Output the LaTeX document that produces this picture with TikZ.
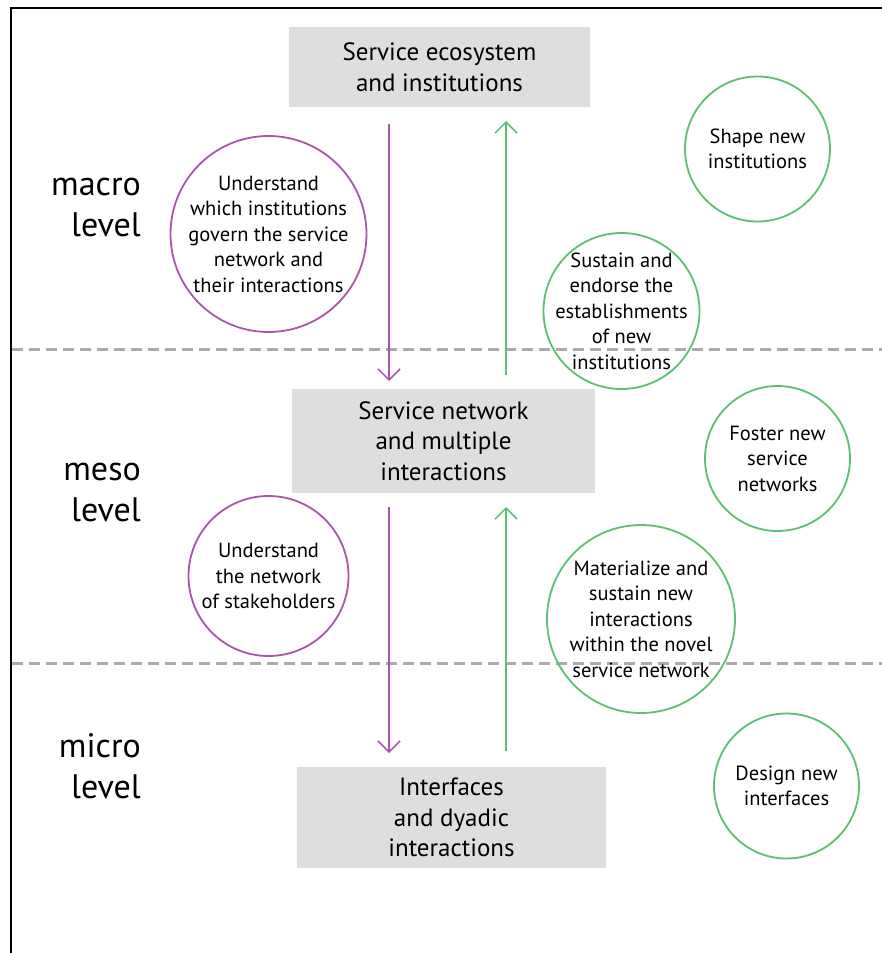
\documentclass[tikz,border=0pt]{standalone}
\usepackage{fontspec}
\setmainfont{PT Sans}
\usetikzlibrary{arrows.meta}
\definecolor{purp}{HTML}{A657A8}
\definecolor{grn}{HTML}{5CBF73}
\definecolor{boxgray}{HTML}{DEDEDE}
\definecolor{dashgray}{HTML}{ABABAB}
\tikzset{
  levelbox/.style={fill=boxgray, draw=none, align=center, inner sep=0pt,
    font=\fontsize{25}{30.5}\selectfont},
  % negative inner sep keeps each circle at its minimum size
  incircle/.style={circle, draw=purp, line width=1.8pt, align=center, inner sep=-40pt,
    font=\fontsize{20.5}{25.5}\selectfont},
  outcircle/.style={circle, draw=grn, line width=1.8pt, align=center, inner sep=-40pt,
    font=\fontsize{20.5}{25.5}\selectfont},
  levellabel/.style={align=right, anchor=east, inner sep=0pt,
    font=\fontsize{34}{41}\selectfont},
  downarrow/.style={draw=purp, line width=1.5pt, -{Straight Barb[length=11pt, width=22pt, line width=1.5pt]}},
  uparrow/.style={draw=grn, line width=1.5pt, -{Straight Barb[length=11pt, width=22pt, line width=1.5pt]}},
  divider/.style={draw=dashgray, line width=3pt, dash pattern=on 11pt off 6pt},
}
\begin{document}
\begin{tikzpicture}[x=1pt, y=-1pt]
\useasboundingbox (0,0) rectangle (882,953);
% frame
\draw[line width=2.5pt] (11,953) -- (11,8) -- (882,8);
% level dividers
\draw[divider] (12,349) -- (882,349);
\draw[divider] (12,663) -- (882,663);
% level boxes
\node[levelbox, minimum width=301pt, minimum height=80pt] (eco) at (439.5,67)
  {Service ecosystem\\and institutions};
\node[levelbox, minimum width=303pt, minimum height=104pt] (net) at (443.5,441)
  {Service network\\and multiple\\interactions};
\node[levelbox, minimum width=309pt, minimum height=101pt] (dyad) at (451.5,817.5)
  {Interfaces\\and dyadic\\interactions};
% connector end points
\coordinate (d1s) at (389,124);
\coordinate (d1e) at (389,381);
\coordinate (d2s) at (389,507);
\coordinate (d2e) at (389,753);
\coordinate (u1s) at (506,375);
\coordinate (u1e) at (506,121);
\coordinate (u2s) at (506,751);
\coordinate (u2e) at (506,507);
\draw[downarrow] (d1s) -- (d1e);
\draw[downarrow] (d2s) -- (d2e);
\draw[uparrow] (u1s) -- (u1e);
\draw[uparrow] (u2s) -- (u2e);
% level labels
\node[levellabel] (macro) at (141,207) {macro\\level};
\node[levellabel] (meso) at (141,492) {meso\\level};
\node[levellabel] (micro) at (141,766) {micro\\level};
% understanding circles
\node[incircle, minimum size=196pt] (c1) at (268.5,234)
  {Understand\\which institutions\\govern the service\\network and\\their interactions};
\node[incircle, minimum size=160pt] (c2) at (268.5,576)
  {Understand\\the network\\of stakeholders};
% shaping circles
\node[outcircle, minimum size=145pt] (g1) at (757.5,149)
  {Shape new\\institutions};
\node[outcircle, minimum size=156pt] (g2) at (621.5,311)
  {Sustain and\\endorse the\\establishments\\of new\\institutions};
\node[outcircle, minimum size=145pt] (g3) at (777.5,458.5)
  {Foster new\\service\\networks};
\node[outcircle, minimum size=188pt] (g4) at (641,619)
  {Materialize and\\sustain new\\interactions\\within the novel\\service network};
\node[outcircle, minimum size=145pt] (g5) at (786.5,786)
  {Design new\\interfaces};
\end{tikzpicture}
\end{document}
